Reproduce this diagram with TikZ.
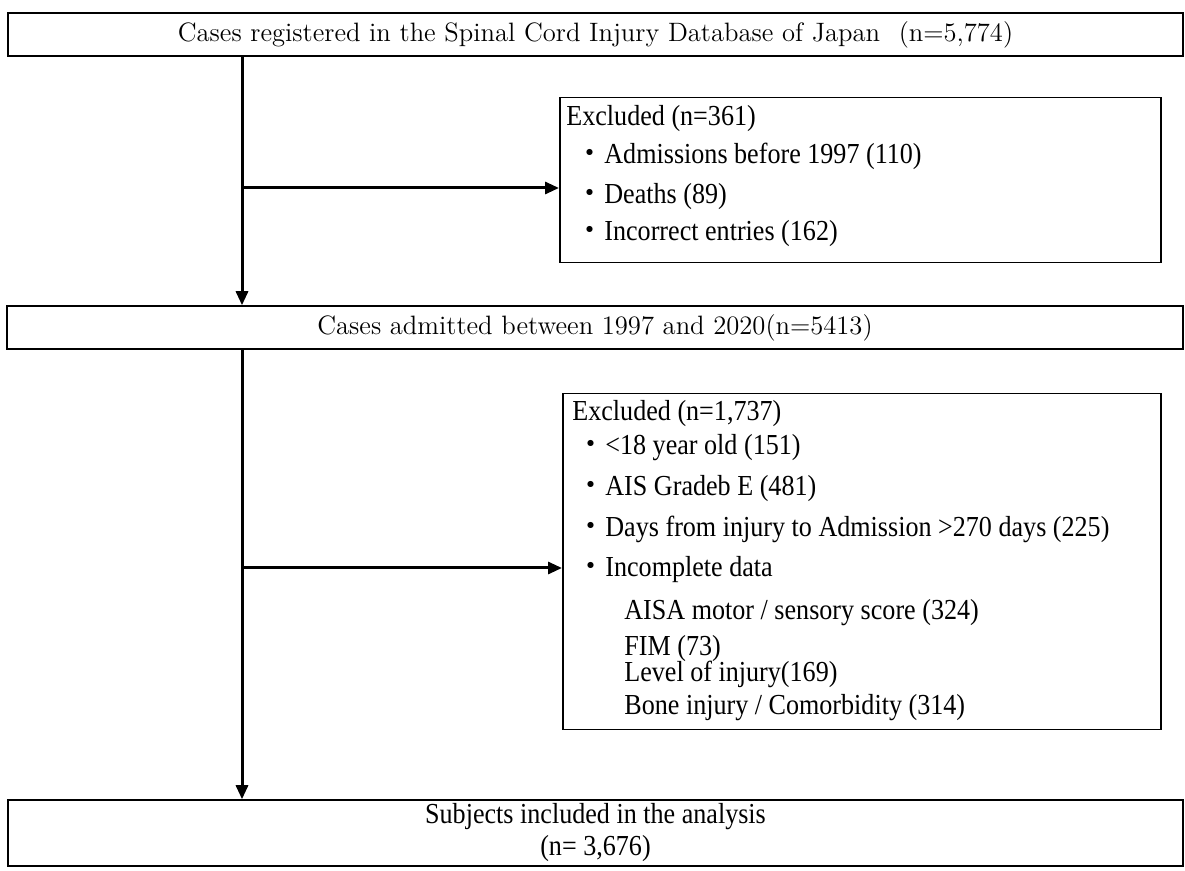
\documentclass[tikz,border=0pt]{standalone}
\usepackage{fontspec}
\newfontfamily\tnr[FakeStretch=0.9]{Liberation Serif}
\newfontfamily\cjk{Noto Sans CJK JP}
\usetikzlibrary{arrows.meta}

\begin{document}
\begin{tikzpicture}[
  x=0.5pt,y=-0.5pt,
  stagebox/.style={rectangle,draw=black,line width=1pt,inner sep=0pt,
                   font=\fontsize{13.3}{15}\selectfont},
  exclbox/.style={rectangle,draw=black,line width=0.75pt,inner sep=0pt,
                  anchor=north west},
  listline/.style={anchor=base west,inner sep=0pt,
                   font=\tnr\fontsize{14.5}{16}\selectfont},
  flow/.style={draw=black,line width=1.5pt,
               -{Triangle[length=7pt,width=6pt]}},
]
\useasboundingbox (0,0) rectangle (1185,871);

% Main stages of the cohort selection.
\node[stagebox,minimum width=587.5pt,minimum height=21.5pt] (registered)
  at (595.5,34.5)
  {Cases registered in the Spinal Cord Injury Database of Japan\hspace{0.7em}(n=5,774)};
\node[stagebox,line width=0.75pt,minimum width=588pt,minimum height=21.5pt]
  (admitted) at (595,327.5)
  {Cases admitted between 1997 and 2020(n=5413)};
\node[stagebox,line width=0.75pt,minimum width=587.5pt,minimum height=33pt,
  font=\tnr\fontsize{14.5}{16}\selectfont,align=center] (included)
  at (595.5,833)
  {Subjects included in the analysis\\(n= 3,676)};

% Exclusion boxes and their lines.
\node[exclbox,minimum width=300.5pt,minimum height=82.5pt] (exclFirst)
  at (559,97) {};
\node[exclbox,minimum width=299pt,minimum height=168pt] (exclSecond)
  at (562,393) {};

\foreach \x/\y/\t [count=\i] in {566/126/{Excluded (n=361)},
  575/164/{{\cjk ・}Admissions before 1997 (110)},
  575/204/{{\cjk ・}Deaths (89)},
  575/241/{{\cjk ・}Incorrect entries (162)}}
  \node[listline] (firstLine\i) at (\x,\y) {\t};

\foreach \x/\y/\t [count=\i] in {572/421/{Excluded (n=1,737)},
  576/455/{{\cjk ・}<18 year old (151)},
  576/496/{{\cjk ・}AIS Gradeb E (481)},
  576/537/{{\cjk ・}Days from injury to Admission >270 days (225)},
  576/577/{{\cjk ・}Incomplete data},
  624/620/{AISA motor / sensory score (324)},
  624/656/{FIM (73)},
  624/682/{Level of injury(169)},
  624/715/{Bone injury / Comorbidity (314)}}
  \node[listline] (secondLine\i) at (\x,\y) {\t};

% Connectors.
\coordinate (spine) at (242,0);
\coordinate (forkFirst) at (242,188);
\coordinate (forkSecond) at (242,568);
\draw[flow] (registered.south -| spine) -- (admitted.north -| spine);
\draw[flow] (admitted.south -| spine) -- (included.north -| spine);
\draw[flow] (forkFirst) -- (forkFirst -| exclFirst.west);
\draw[flow] (forkSecond) -- (forkSecond -| exclSecond.west);
\end{tikzpicture}
\end{document}
